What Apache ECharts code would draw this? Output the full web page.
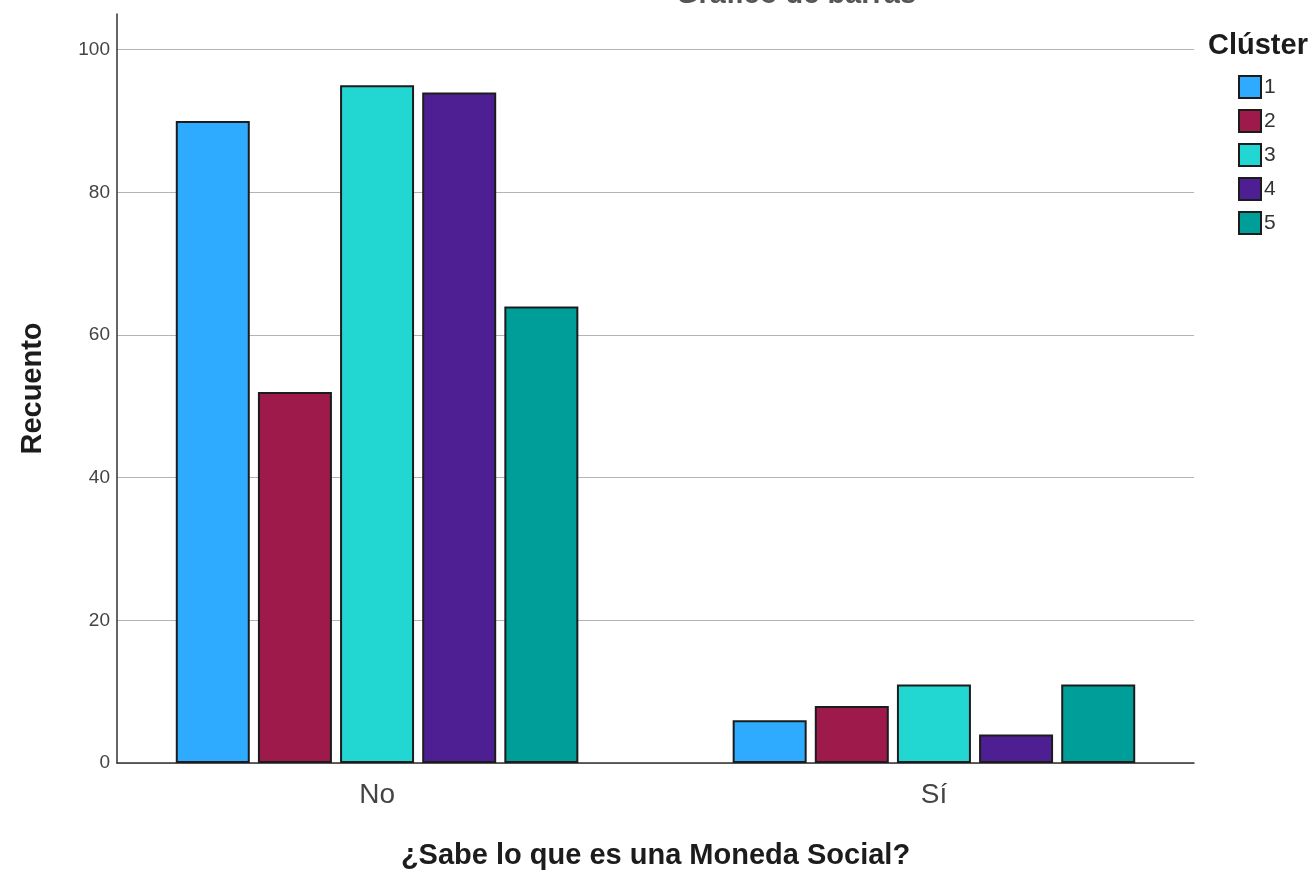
<!DOCTYPE html>
<html>
<head>
<meta charset="utf-8">
<script src="https://cdn.jsdelivr.net/npm/echarts@6/dist/echarts.min.js"></script>
<style>
  html, body { margin: 0; padding: 0; background: #fff; }
  #chart { width: 1316px; height: 875px; }
</style>
</head>
<body>
<div id="chart"></div>
<script>
var categories = ['No', 'Sí'];
var clusters = ['1', '2', '3', '4', '5'];
var noValues = [90, 52, 95, 94, 64];
var siValues = [6, 8, 11, 4, 11];
var colors = ['#2eabff', '#9e1a4a', '#22d6d2', '#4e1f93', '#009e98'];

var dom = document.getElementById('chart');
var myChart = echarts.init(dom);
var font = 'Liberation Sans, Arial, sans-serif';

var series = clusters.map(function (name, i) {
    return {
        name: name,
        type: 'bar',
        barWidth: 74,
        barGap: '11%',
        itemStyle: {
            color: colors[i],
            borderColor: '#1c1c1c',
            borderWidth: 2
        },
        data: [[0, noValues[i]], [1, siValues[i]]]
    };
});

var option = {
    animation: false,
    textStyle: { fontFamily: font },
    title: [
        {
            text: 'Gráfico de barras',
            left: 791,
            top: -25,
            textAlign: 'center',
            textStyle: { fontSize: 29, fontWeight: 'bold', color: '#555', fontFamily: font }
        },
        {
            text: 'Clúster',
            left: 1203,
            top: 26,
            textStyle: { fontSize: 29, fontWeight: 'bold', color: '#1c1c1c', fontFamily: font }
        }
    ],
    legend: {
        orient: 'vertical',
        left: 1233,
        top: 70,
        itemWidth: 22,
        itemHeight: 22,
        itemGap: 10,
        icon: 'rect',
        itemStyle: { borderColor: '#1c1c1c', borderWidth: 2 },
        textStyle: { fontSize: 21, color: '#333', padding: [0, 0, 0, -2], fontFamily: font },
        data: clusters
    },
    grid: {
        left: 117,
        right: 122,
        top: 14,
        bottom: 110
    },
    xAxis: {
        type: 'value',
        min: -0.467,
        max: 1.467,
        name: '¿Sabe lo que es una Moneda Social?',
        nameLocation: 'middle',
        nameGap: 78,
        nameTextStyle: { fontSize: 29, fontWeight: 'bold', color: '#1c1c1c', fontFamily: font },
        axisLine: { onZero: false, lineStyle: { color: '#333', width: 1.5 } },
        axisTick: { show: false },
        splitLine: { show: false },
        axisLabel: {
            customValues: [0, 1],
            formatter: function (v) { return categories[Math.round(v)]; },
            fontSize: 28,
            color: '#444',
            margin: 18,
            fontFamily: font
        }
    },
    yAxis: {
        type: 'value',
        min: 0,
        max: 105,
        interval: 20,
        name: 'Recuento',
        nameLocation: 'middle',
        nameGap: 70,
        nameTextStyle: { fontSize: 29, fontWeight: 'bold', color: '#1c1c1c', fontFamily: font },
        axisLine: { show: true, onZero: false, lineStyle: { color: '#333', width: 1.5 } },
        axisTick: { show: false },
        axisLabel: { showMaxLabel: false, fontSize: 19, color: '#444', margin: 7, fontFamily: font },
        splitLine: { show: true, showMaxLine: false, lineStyle: { color: '#b4b4b4', width: 1.2 } }
    },
    series: series
};

if (option && typeof option === 'object') {
    myChart.setOption(option, true);
}
</script>
</body>
</html>
